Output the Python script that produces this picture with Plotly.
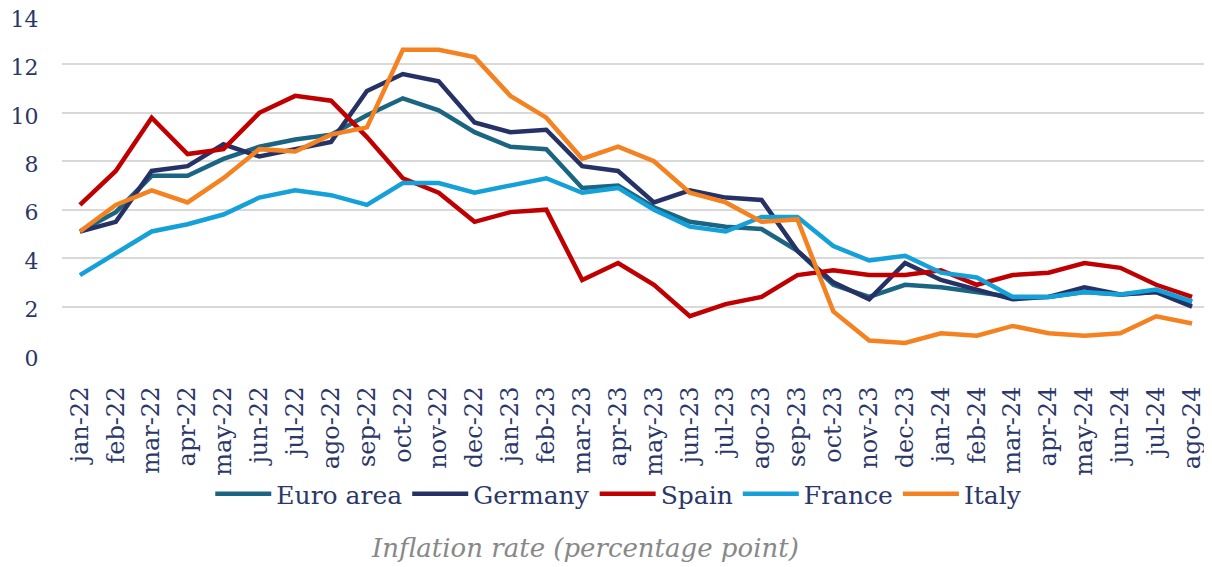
import plotly.graph_objects as go

months = ["jan-22","feb-22","mar-22","apr-22","may-22","jun-22","jul-22","ago-22","sep-22","oct-22","nov-22","dec-22",
          "jan-23","feb-23","mar-23","apr-23","may-23","jun-23","jul-23","ago-23","sep-23","oct-23","nov-23","dec-23",
          "jan-24","feb-24","mar-24","apr-24","may-24","jun-24","jul-24","ago-24"]

euro_area = [5.1,5.9,7.4,7.4,8.1,8.6,8.9,9.1,9.9,10.6,10.1,9.2,8.6,8.5,6.9,7.0,6.1,5.5,5.3,5.2,4.3,2.9,2.4,2.9,2.8,2.6,2.4,2.4,2.6,2.5,2.6,2.2]
germany   = [5.1,5.5,7.6,7.8,8.7,8.2,8.5,8.8,10.9,11.6,11.3,9.6,9.2,9.3,7.8,7.6,6.3,6.8,6.5,6.4,4.3,3.0,2.3,3.8,3.1,2.7,2.3,2.4,2.8,2.5,2.6,2.0]
spain     = [6.2,7.6,9.8,8.3,8.5,10.0,10.7,10.5,9.0,7.3,6.7,5.5,5.9,6.0,3.1,3.8,2.9,1.6,2.1,2.4,3.3,3.5,3.3,3.3,3.5,2.9,3.3,3.4,3.8,3.6,2.9,2.4]
france    = [3.3,4.2,5.1,5.4,5.8,6.5,6.8,6.6,6.2,7.1,7.1,6.7,7.0,7.3,6.7,6.9,6.0,5.3,5.1,5.7,5.7,4.5,3.9,4.1,3.4,3.2,2.4,2.4,2.6,2.5,2.7,2.2]
italy     = [5.1,6.2,6.8,6.3,7.3,8.5,8.4,9.1,9.4,12.6,12.6,12.3,10.7,9.8,8.1,8.6,8.0,6.7,6.3,5.5,5.6,1.8,0.6,0.5,0.9,0.8,1.2,0.9,0.8,0.9,1.6,1.3]

y_ticks = [0, 2, 4, 6, 8, 10, 12, 14]

series = [
    ("Euro area", euro_area, "#1B6583"),
    ("Germany", germany, "#263266"),
    ("Spain", spain, "#C00000"),
    ("France", france, "#14A0D8"),
    ("Italy", italy, "#F58220"),
]

text_color = "#2B3768"
serif = "DejaVu Serif"

fig = go.Figure()
for name, vals, color in series:
    fig.add_trace(go.Scatter(x=months, y=vals, name=name, mode="lines",
                             line=dict(color=color, width=4.5)))

fig.update_layout(
    width=1204, height=559,
    margin=dict(l=54, r=2, t=7, b=212),
    plot_bgcolor="white", paper_bgcolor="white",
    font=dict(family=serif, color=text_color),
    xaxis=dict(type="category", range=[-0.5, len(months) - 0.5], automargin=False,
               tickangle=-90, tickfont=dict(size=24, family=serif, color=text_color),
               showgrid=False, showline=False, zeroline=False,
               ticks="outside", ticklen=21, tickcolor="rgba(0,0,0,0)"),
    yaxis=dict(range=[0, 14.04], tickvals=y_ticks, automargin=False, ticklabeloverflow="allow",
               ticklabelshift=3,
               showgrid=True, gridcolor="#D9D9D9", gridwidth=1.5,
               zeroline=False, showline=False,
               tickfont=dict(size=22, family=serif, color=text_color),
               ticks="outside", tickcolor="rgba(0,0,0,0)", ticklen=18),
    legend=dict(orientation="h", x=0.485, xanchor="center", y=-0.409, yanchor="middle",
                font=dict(size=25, family=serif, color=text_color),
                itemwidth=56, tracegroupgap=0, bgcolor="rgba(0,0,0,0)"),
    showlegend=True,
    annotations=[dict(text="<i>Inflation rate (percentage point)</i>", xref="paper", yref="paper",
                      x=0.456, y=-0.568, xanchor="center", yanchor="middle", showarrow=False,
                      font=dict(size=26, family=serif, color="#888888"))],
)

fig.write_html("out.html")
